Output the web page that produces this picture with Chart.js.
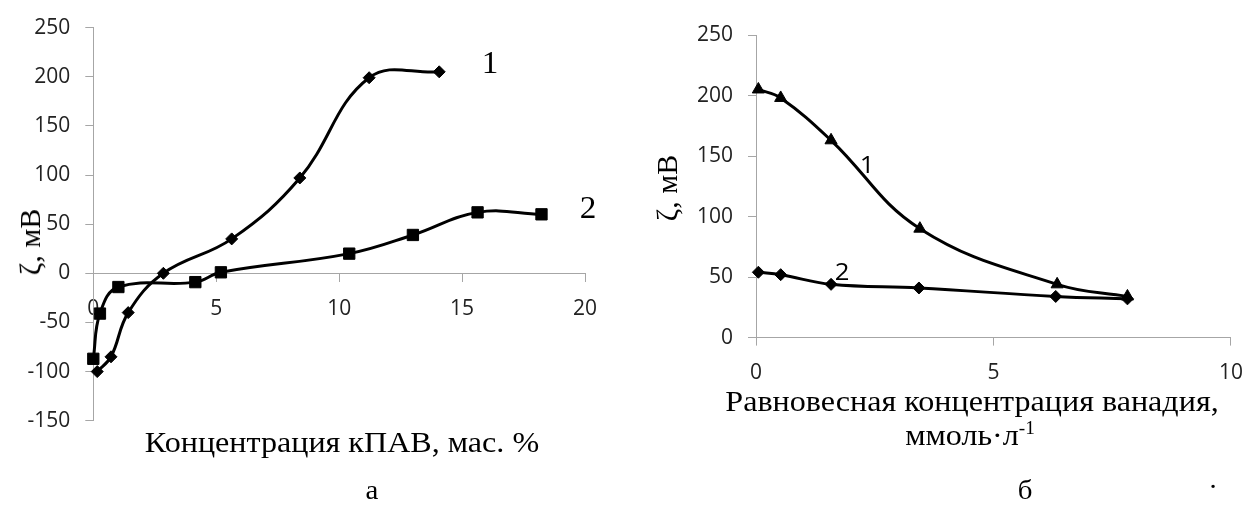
<!DOCTYPE html>
<html>
<head>
<meta charset="utf-8">
<script src="https://cdn.jsdelivr.net/npm/chart.js@4.4.0/dist/chart.umd.min.js"></script>
<style>
  body { margin: 0; background: #fff; width: 1258px; height: 516px; overflow: hidden; position: relative; }
  canvas { position: absolute; top: 0; }
  .t { position: absolute; transform: translate(-50%, -50%) scaleX(1.07); white-space: nowrap; color: #000;
       font-family: "Liberation Serif", "Times New Roman", serif; }
  .s { font-family: "Open Sans", sans-serif; }
  .rot { transform: translate(-50%, -50%) rotate(-90deg); }
  sup { font-size: 60%; }
</style>
</head>
<body>
<canvas id="chartA" width="620" height="516" style="left:0"></canvas>
<canvas id="chartB" width="628" height="516" style="left:630px"></canvas>

<div class="t rot" style="left:30px; top:242px; font-size:30px">ζ, мВ</div>
<div class="t" style="left:342px; top:442px; font-size:30px">Концентрация кПАВ, мас. %</div>
<div class="t" style="left:490px; top:63px; font-size:31px">1</div>
<div class="t" style="left:588px; top:208px; font-size:31px">2</div>
<div class="t" style="left:372px; top:490px; font-size:27px">а</div>

<div class="t rot" style="left:667px; top:188px; font-size:30px">ζ, мВ</div>
<div class="t s" style="left:867px; top:163px; font-size:24px">1</div>
<div class="t s" style="left:842px; top:270px; font-size:24px">2</div>
<div class="t" style="left:972px; top:401px; font-size:30px">Равновесная концентрация ванадия,</div>
<div class="t" style="left:970px; top:435px; font-size:30px">ммоль·л<sup>-1</sup></div>
<div class="t" style="left:1025px; top:490px; font-size:27px">б</div>
<div class="t" style="left:1213px; top:487px; font-size:27px">·</div>

<script>
// а) дзета-потенциал от концентрации кПАВ
const aX1 = [0.16, 0.72, 1.42, 2.85, 5.63, 8.4, 11.22, 14.07];
const aY1 = [-100, -85, -40, 0, 35, 97, 199, 205];
const aX2 = [0, 0.27, 1.02, 4.15, 5.19, 10.41, 13.0, 15.63, 18.23];
const aY2 = [-87, -41, -14, -9, 1, 20, 39, 62, 60];
const aXTicks = [0, 5, 10, 15, 20];
const aYTicks = [-150, -100, -50, 0, 50, 100, 150, 200, 250];

// б) дзета-потенциал от равновесной концентрации ванадия
const bX1 = [0.05, 0.52, 1.58, 3.45, 6.34, 7.82];
const bY1 = [205, 198, 163, 90, 44, 34];
const bX2 = [0.05, 0.52, 1.58, 3.43, 6.31, 7.82];
const bY2 = [54, 52, 44, 41, 34, 32];
const bXTicks = [0, 5, 10];
const bYTicks = [0, 50, 100, 150, 200, 250];

const toPts = (xs, ys) => xs.map((x, i) => ({ x: x, y: ys[i] }));
const axisGray = '#a6a6a6';
const tickFont = { family: 'Open Sans', size: 21 };

function series(data, style, radius) {
  return {
    data: data,
    showLine: true,
    clip: false,
    borderColor: '#000',
    backgroundColor: '#000',
    borderWidth: 3,
    tension: 0.4,
    pointStyle: style,
    pointRadius: radius,
    pointBorderWidth: 1,
    pointBackgroundColor: '#000',
    pointBorderColor: '#000'
  };
}

function axis(extra, ticks) {
  return Object.assign({
    type: 'linear',
    min: ticks[0],
    max: ticks[ticks.length - 1],
    afterBuildTicks: s => { s.ticks = ticks.map(v => ({ value: v })); },
    grid: { drawOnChartArea: false, drawTicks: true, tickLength: 8, tickColor: axisGray },
    border: { color: axisGray, width: 1 },
    ticks: {
      color: '#222',
      font: tickFont,
      padding: 15,
      callback: v => (v < 0 ? '-' + Math.abs(v) : String(v))
    }
  }, extra);
}

const common = {
  responsive: false,
  animation: false,
  plugins: { legend: { display: false }, tooltip: { enabled: false } }
};

// ширина оси Y задана целиком, иначе подписи слева обрезаются по краю шкалы
new Chart(document.getElementById('chartA'), {
  type: 'scatter',
  data: {
    datasets: [
      series(toPts(aX2, aY2), 'rect', 8),
      series(toPts(aX1, aY1), 'rectRot', 6)
    ]
  },
  options: Object.assign({}, common, {
    layout: { padding: { left: 0.3, right: 35, top: 20.7, bottom: 95.3 } },
    scales: {
      x: axis({ position: { y: 0 } }, aXTicks),
      y: axis({ position: 'left', afterFit: s => { s.width = 93; } }, aYTicks)
    }
  })
});

new Chart(document.getElementById('chartB'), {
  type: 'scatter',
  data: {
    datasets: [
      series(toPts(bX2, bY2), 'rectRot', 6),
      series(toPts(bX1, bY1), 'triangle', 7)
    ]
  },
  options: Object.assign({}, common, {
    layout: { padding: { left: 6, right: 17, top: 35, bottom: 128.4 } },
    scales: {
      x: axis({ position: 'bottom', afterFit: s => { s.height = 50; } }, bXTicks),
      y: axis({ position: 'left', afterFit: s => { s.width = 120; } }, bYTicks)
    }
  })
});
</script>
</body>
</html>
